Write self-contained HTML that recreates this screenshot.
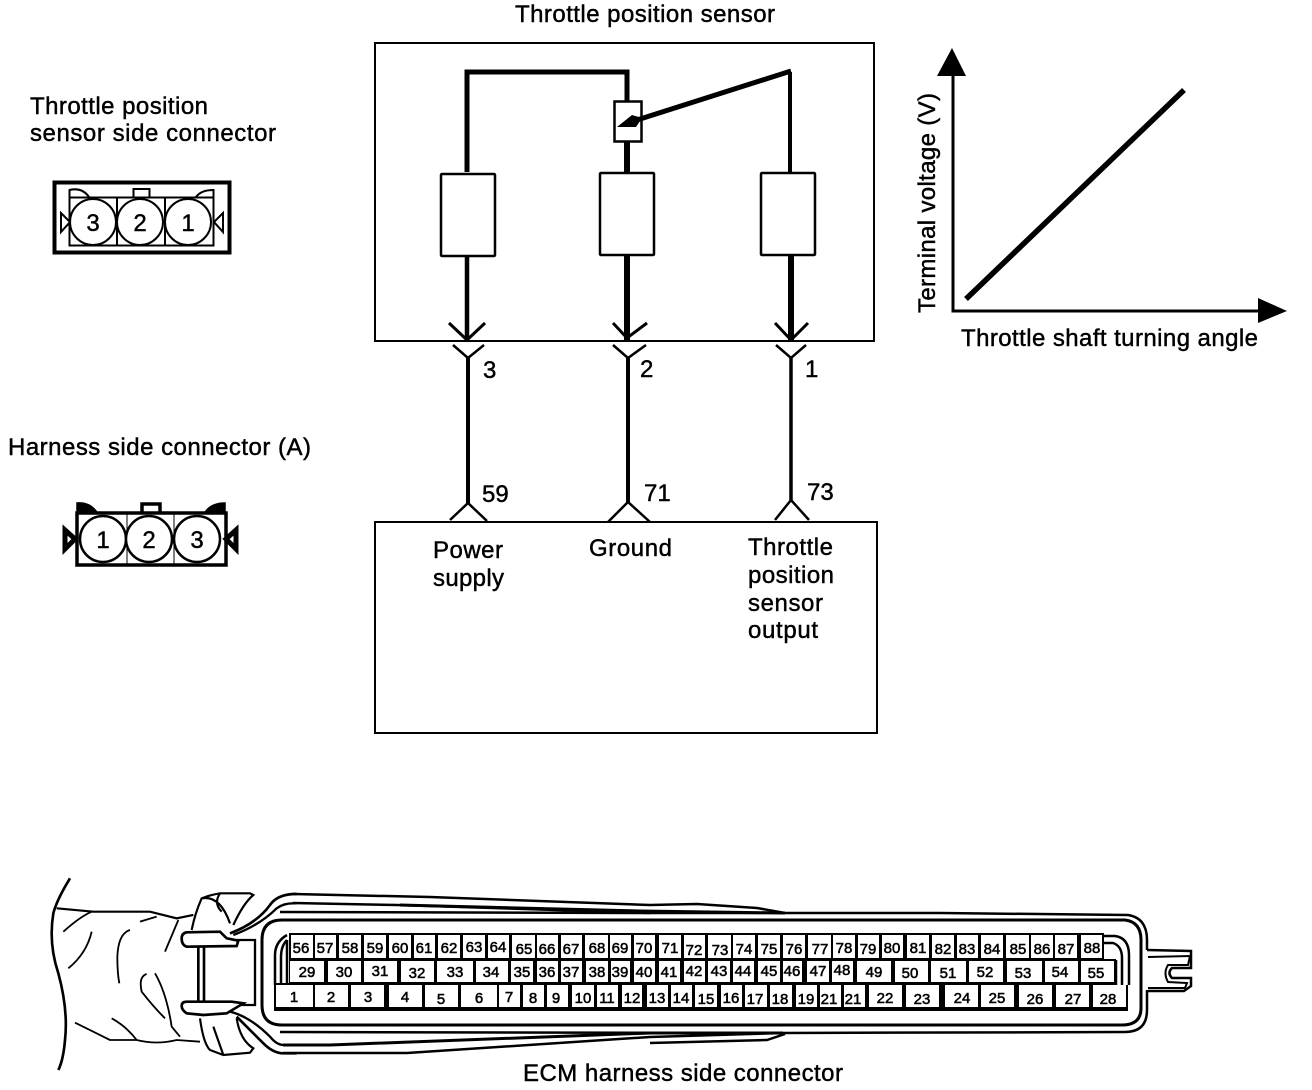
<!DOCTYPE html>
<html><head><meta charset="utf-8"><style>
html,body{margin:0;padding:0;background:#fff}
svg{display:block}
text{font-family:"Liberation Sans",sans-serif;fill:#000}
.l text,text.l{font-size:24px;stroke:#000;stroke-width:.45px}
.n text{font-size:15px;text-anchor:middle;stroke:#000;stroke-width:.55px}
.c text{font-size:24px;text-anchor:middle;stroke:#000;stroke-width:.45px}
</style></head><body>
<svg width="1312" height="1090" viewBox="0 0 1312 1090" xmlns="http://www.w3.org/2000/svg">
<rect width="1312" height="1090" fill="#fff"/>

<!-- sensor box -->
<g fill="none" stroke="#000">
<rect x="375" y="43" width="499" height="298" stroke-width="2"/>
<path d="M875,522H375V733H877V522H630" stroke-width="2"/>
<path d="M467,172V72H627V102" stroke-width="5"/>
<path d="M627,142V172" stroke-width="6"/>
<path d="M790,172V72" stroke-width="4"/>
<path d="M791,71L634,121" stroke-width="5"/>
<rect x="614.500" y="101.500" width="27" height="40" stroke-width="2.500"/>
<rect x="441" y="174" width="54" height="82" rx="1" stroke-width="2.500"/>
<rect x="600" y="173" width="54" height="82" rx="1" stroke-width="2.500"/>
<rect x="761" y="173" width="54" height="82" rx="1" stroke-width="2.500"/>
<path d="M467,256V340" stroke-width="4.500"/>
<path d="M627,255V340" stroke-width="6"/>
<path d="M791,255V340" stroke-width="6"/>
<path d="M449,323L467,340L485,323M613,323L627,338L647,323M775,323L791,340L808,323" stroke-width="3"/>
<path d="M453,345L468,358L484,345M613,345L628,358L646,345M776,345L791,358L806,345" stroke-width="2.500"/>
<path d="M468,357V503" stroke-width="4"/>
<path d="M628,357V502" stroke-width="4"/>
<path d="M791,357V500" stroke-width="3.500"/>
<path d="M450,520L468,503L487,521M608,522L628,502L650,522M775,520L791,500L809,520" stroke-width="2.500"/>
</g>
<path d="M617,127L632,115L642,118L636,127Z" fill="#000"/>

<!-- graph -->
<g stroke="#000" fill="none">
<path d="M953,75V311H1260" stroke-width="3"/>
<path d="M966,299L1184,90" stroke-width="5.500"/>
</g>
<path d="M937,76L952,48L966,76Z M1258,298L1287,311L1258,323Z" fill="#000"/>

<!-- labels -->
<g class="l">
<text x="515" y="22" textLength="260">Throttle position sensor</text>
<text x="30" y="114" textLength="178">Throttle position</text>
<text x="30" y="141" textLength="246">sensor side connector</text>
<text x="8" y="455" textLength="303">Harness side connector (A)</text>
<text x="961" y="346" textLength="297">Throttle shaft turning angle</text>
<text transform="translate(935,313) rotate(-90)" textLength="220">Terminal voltage (V)</text>
<text x="523" y="1081" textLength="320">ECM harness side connector</text>
<text x="433" y="558" textLength="70">Power</text>
<text x="433" y="586" textLength="71">supply</text>
<text x="589" y="556" textLength="83">Ground</text>
<text x="748" y="555" textLength="85">Throttle</text>
<text x="748" y="583" textLength="86">position</text>
<text x="748" y="611" textLength="75">sensor</text>
<text x="748" y="638" textLength="70">output</text>
<text x="483" y="378">3</text>
<text x="640" y="377">2</text>
<text x="805" y="377">1</text>
<text x="482" y="502">59</text>
<text x="644" y="501">71</text>
<text x="807" y="500">73</text>
</g>

<!-- sensor side connector -->
<g fill="none" stroke="#000">
<rect x="54.500" y="182.500" width="175" height="70" stroke-width="4"/>
<rect x="69.500" y="197.500" width="144" height="48" stroke-width="2"/>
<path d="M117,197V246M165,197V246" stroke-width="2"/>
<path d="M133.500,197V189H149.500V197M69.500,197V190Q82,187 89,197M213.500,197V190Q201,190 196,197" stroke-width="2"/>
<g fill="#fff" stroke-width="2"><circle cx="93" cy="222" r="23"/><circle cx="140" cy="222" r="23"/><circle cx="188" cy="222" r="23"/></g>
<path d="M61,213L70,222L61,232ZM223,213L214,222L223,232Z" stroke-width="2"/>
</g>
<g class="c"><text x="93" y="231">3</text><text x="140" y="231">2</text><text x="188" y="231">1</text></g>

<!-- harness side connector -->
<g fill="none" stroke="#000">
<rect x="77" y="513" width="149" height="52" stroke-width="3.500"/>
<path d="M127,513V565M174,513V565" stroke-width="1"/>
<path d="M142,512V504H160V512" stroke-width="3.500"/>
<path d="M77,512V503Q89,502 96,511L77,512ZM225,512V503Q212,503 206,511Z" fill="#000" stroke-width="1.500"/>
<g fill="#fff" stroke-width="2.500"><circle cx="103" cy="539" r="23"/><circle cx="149" cy="539" r="23"/><circle cx="197" cy="539" r="23"/></g>
<path d="M65,530L75,539L65,549ZM236,530L226,539L236,549Z" stroke-width="5"/>
</g>
<g class="c"><text x="103" y="548">1</text><text x="149" y="548">2</text><text x="197" y="548">3</text></g>

<!-- ECM harness wrinkle + clips -->
<g transform="translate(30,870) scale(.33333)" fill="none" stroke="#000" stroke-width="6.500">
<path d="M120,25Q80,90 70,130Q55,220 85,310Q115,420 105,510Q100,570 85,600" stroke-width="8"/>
<path d="M80,115L190,125H360L440,145L490,135" />
<path d="M100,185Q150,140 185,125M115,295Q170,250 185,185M300,180Q265,190 262,260Q262,310 268,340M405,245L445,150M330,155L380,140M375,310Q410,370 425,470L450,500M350,312Q325,320 335,365Q370,410 405,445M135,458Q180,480 240,510H320Q380,525 440,510L510,515M245,445Q290,470 320,510" stroke-width="5.500"/>
<path d="M485,180Q495,130 515,85Q540,75 570,70H660L670,75Q640,100 610,165M570,70Q550,100 575,125M515,85Q570,75 600,160" />
<path d="M505,230V395M522,230V395" stroke-width="8"/>
<path d="M620,210H675V405H600" stroke-width="7"/>
<path d="M470,187L570,185L590,205L625,212L620,228L470,230Q455,225 455,205Q455,190 470,187Z" fill="#fff" stroke-width="8"/>
<path d="M470,395L605,395L640,400L590,430L520,435L470,430Q455,420 455,408Q455,395 470,395Z" fill="#fff" stroke-width="8"/>
<path d="M600,190Q680,160 720,105Q740,75 790,72H800" stroke-width="8"/>
<path d="M610,195Q690,165 740,115Q760,100 790,100H800" stroke-width="7"/>
<path d="M510,445Q520,520 540,540L580,555L660,548L670,535Q630,510 620,445M550,470L580,555" />
<path d="M620,440Q680,500 700,520Q730,550 760,550H800" stroke-width="8"/>
<path d="M600,425Q660,440 720,500Q740,525 760,525H800" stroke-width="7"/>
</g>

<!-- housing long lines -->
<g fill="none" stroke="#000">
<path d="M293,894L430,897L650,905L697,904L757,908L785,913" stroke-width="2.500"/>
<path d="M293,903L397,905L650,913" stroke-width="2.500"/>
<path d="M400,905L640,911L785,913" stroke-width="3"/>
<path d="M280,912L650,913L940,913L1128,915Q1147,918 1147,940V950M1147,990V1010Q1147,1032 1125,1032L780,1033L280,1032" stroke-width="2.500"/>
<path d="M283,1053L407,1053L650,1037L783,1033" stroke-width="2.500"/>
<path d="M283,1045L330,1045L650,1033L783,1033" stroke-width="3"/>
<path d="M650,1043L767,1040L785,1034" stroke-width="2.500"/>
<path d="M282,920H1125Q1141,922 1141,940V1008Q1141,1025 1122,1025H282Q262,1025 262,1005V940Q262,920 282,920Z" stroke-width="3"/>
<path d="M1147,950L1191,951V968H1172Q1167,973 1172,978H1191V986L1184,991H1148" stroke-width="2.500"/>
<path d="M1148,957L1190,956L1188,965H1168Q1163,973 1168,982L1187,983L1185,988H1148" stroke-width="2" />
<path d="M275,985V955Q275,942 287,935M281,985V957Q281,946 287,940M287,940V985" stroke-width="2.500"/>
<path d="M1103,936H1115Q1129,938 1129,955V985M1104,943H1113Q1122,946 1122,958V985M1116,960V985" stroke-width="2.500"/>
</g>

<!-- connector black base -->
<path d="M289,933H1104V959H1116V985H1128V1011H274V983H289Z" fill="#000"/>

<!-- cells -->
<g fill="#fff">
<rect x="291" y="935" width="22" height="23"/><rect x="315" y="935" width="21" height="23"/><rect x="339" y="935" width="22" height="23"/><rect x="364" y="935" width="22" height="23"/><rect x="389" y="935" width="22" height="23"/><rect x="414" y="935" width="21" height="23"/><rect x="438" y="935" width="22" height="23"/><rect x="463" y="935" width="22" height="23"/><rect x="488" y="935" width="21" height="23"/><rect x="512" y="935" width="23" height="23"/><rect x="537" y="935" width="21" height="23"/><rect x="561" y="935" width="21" height="23"/><rect x="585" y="935" width="23" height="23"/><rect x="610" y="935" width="21" height="23"/><rect x="634" y="935" width="21" height="23"/><rect x="659" y="935" width="22" height="23"/><rect x="684" y="935" width="21" height="23"/><rect x="708" y="935" width="23" height="23"/><rect x="733" y="935" width="22" height="23"/><rect x="758" y="935" width="22" height="23"/><rect x="783" y="935" width="22" height="23"/><rect x="808" y="935" width="23" height="23"/><rect x="833" y="935" width="22" height="23"/><rect x="858" y="935" width="21" height="23"/><rect x="882" y="935" width="21" height="23"/><rect x="907" y="935" width="22" height="23"/><rect x="932" y="935" width="22" height="23"/><rect x="957" y="935" width="21" height="23"/><rect x="981" y="935" width="22" height="23"/><rect x="1006" y="935" width="23" height="23"/><rect x="1031" y="935" width="22" height="23"/><rect x="1055" y="935" width="22" height="23"/><rect x="1081" y="935" width="21" height="23"/>

<rect x="290" y="961" width="34" height="21"/><rect x="328" y="961" width="33" height="21"/><rect x="364" y="961" width="33" height="21"/><rect x="401" y="961" width="33" height="21"/><rect x="437" y="961" width="36" height="21"/><rect x="476" y="961" width="32" height="21"/><rect x="511" y="961" width="22" height="21"/><rect x="537" y="961" width="21" height="21"/><rect x="561" y="961" width="21" height="21"/><rect x="586" y="961" width="22" height="21"/><rect x="611" y="961" width="19" height="21"/><rect x="634" y="961" width="21" height="21"/><rect x="659" y="961" width="21" height="21"/><rect x="684" y="961" width="21" height="21"/><rect x="708" y="961" width="22" height="21"/><rect x="733" y="961" width="21" height="21"/><rect x="758" y="961" width="22" height="21"/><rect x="783" y="961" width="19" height="21"/><rect x="807" y="961" width="22" height="21"/><rect x="832" y="961" width="21" height="21"/><rect x="857" y="961" width="34" height="21"/><rect x="895" y="961" width="33" height="21"/><rect x="931" y="961" width="35" height="21"/><rect x="969" y="961" width="34" height="21"/><rect x="1007" y="961" width="35" height="21"/><rect x="1045" y="961" width="33" height="21"/><rect x="1081" y="961" width="33" height="21"/>

<rect x="276" y="985" width="37" height="22"/><rect x="315" y="985" width="33" height="22"/><rect x="351" y="985" width="33" height="22"/><rect x="389" y="985" width="33" height="22"/><rect x="425" y="985" width="33" height="22"/><rect x="461" y="985" width="36" height="22"/><rect x="499" y="985" width="21" height="22"/><rect x="523" y="985" width="21" height="22"/><rect x="547" y="985" width="21" height="22"/><rect x="572" y="985" width="22" height="22"/><rect x="597" y="985" width="21" height="22"/><rect x="622" y="985" width="20" height="22"/><rect x="647" y="985" width="21" height="22"/><rect x="671" y="985" width="21" height="22"/><rect x="695" y="985" width="22" height="22"/><rect x="721" y="985" width="21" height="22"/><rect x="745" y="985" width="22" height="22"/><rect x="770" y="985" width="22" height="22"/><rect x="796" y="985" width="21" height="22"/><rect x="820" y="985" width="21" height="22"/><rect x="844" y="985" width="21" height="22"/><rect x="869" y="985" width="33" height="22"/><rect x="906" y="985" width="33" height="22"/><rect x="945" y="985" width="33" height="22"/><rect x="981" y="985" width="33" height="22"/><rect x="1019" y="985" width="33" height="22"/><rect x="1056" y="985" width="33" height="22"/><rect x="1093" y="985" width="33" height="22"/>
</g>

<g class="n">
<text x="301" y="953">56</text><text x="325" y="953">57</text><text x="350" y="953">58</text><text x="375" y="953">59</text><text x="400" y="953">60</text><text x="424" y="953">61</text><text x="449" y="953">62</text><text x="474" y="952">63</text><text x="498" y="952">64</text><text x="524" y="954">65</text><text x="547" y="954">66</text><text x="571" y="954">67</text><text x="597" y="953">68</text><text x="620" y="953">69</text><text x="644" y="953">70</text><text x="670" y="953">71</text><text x="694" y="955">72</text><text x="720" y="955">73</text><text x="744" y="954">74</text><text x="769" y="954">75</text><text x="794" y="954">76</text><text x="820" y="954">77</text><text x="844" y="953">78</text><text x="868" y="954">79</text><text x="892" y="953">80</text><text x="918" y="953">81</text><text x="943" y="954">82</text><text x="967" y="954">83</text><text x="992" y="954">84</text><text x="1018" y="954">85</text><text x="1042" y="954">86</text><text x="1066" y="954">87</text><text x="1092" y="953">88</text>

<text x="307" y="977">29</text><text x="344" y="977">30</text><text x="380" y="976">31</text><text x="417" y="978">32</text><text x="455" y="977">33</text><text x="491" y="977">34</text><text x="522" y="977">35</text><text x="547" y="977">36</text><text x="571" y="977">37</text><text x="597" y="977">38</text><text x="620" y="977">39</text><text x="644" y="977">40</text><text x="669" y="977">41</text><text x="694" y="976">42</text><text x="719" y="976">43</text><text x="743" y="976">44</text><text x="769" y="976">45</text><text x="792" y="976">46</text><text x="818" y="976">47</text><text x="842" y="975">48</text><text x="874" y="977">49</text><text x="910" y="978">50</text><text x="948" y="978">51</text><text x="985" y="977">52</text><text x="1023" y="978">53</text><text x="1060" y="977">54</text><text x="1096" y="978">55</text>

<text x="294" y="1002">1</text><text x="331" y="1002">2</text><text x="368" y="1002">3</text><text x="405" y="1002">4</text><text x="441" y="1004">5</text><text x="479" y="1003">6</text><text x="509" y="1002">7</text><text x="533" y="1003">8</text><text x="556" y="1003">9</text><text x="583" y="1003">10</text><text x="607" y="1003">11</text><text x="632" y="1003">12</text><text x="657" y="1003">13</text><text x="681" y="1003">14</text><text x="706" y="1004">15</text><text x="731" y="1003">16</text><text x="755" y="1004">17</text><text x="780" y="1004">18</text><text x="806" y="1004">19</text><text x="829" y="1004">21</text><text x="853" y="1004">21</text><text x="885" y="1003">22</text><text x="922" y="1004">23</text><text x="962" y="1003">24</text><text x="997" y="1003">25</text><text x="1035" y="1004">26</text><text x="1073" y="1004">27</text><text x="1108" y="1004">28</text>
</g>
</svg>
</body></html>
